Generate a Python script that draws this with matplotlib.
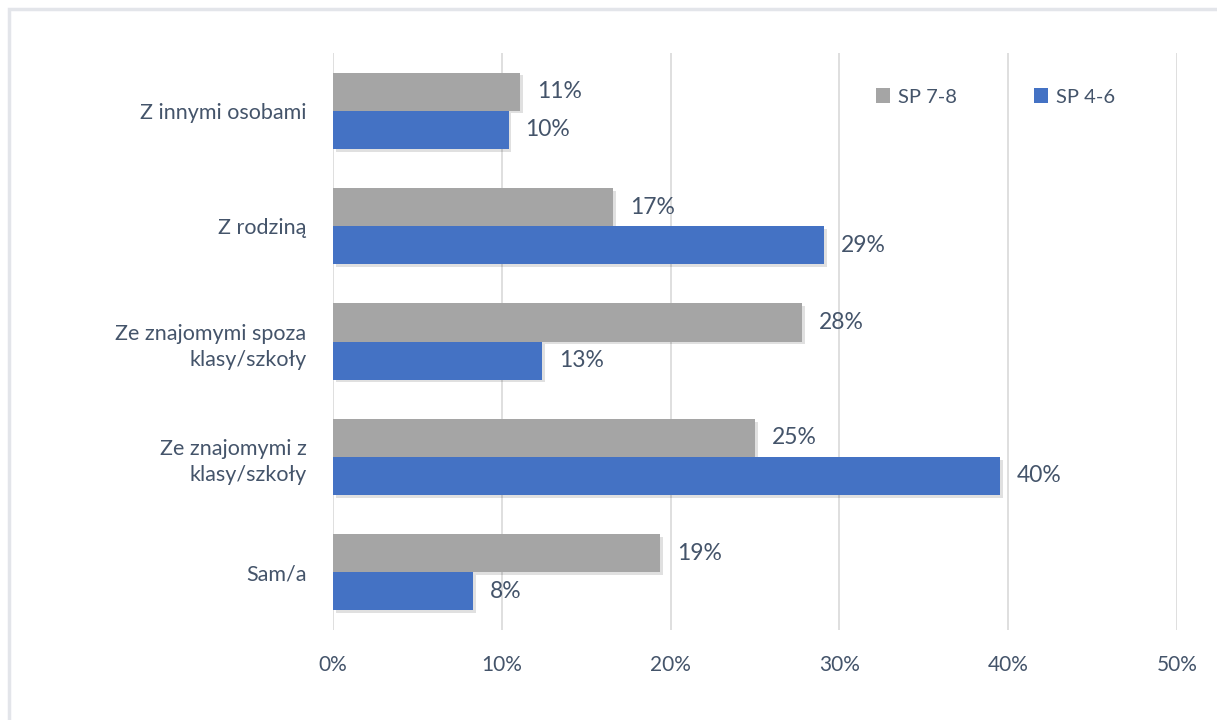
import matplotlib.pyplot as plt
import matplotlib.patheffects as pe
from matplotlib.patches import Rectangle
import numpy as np

# data (bottom -> top)
categories = ['Sam/a', 'Ze znajomymi z\nklasy/szkoły', 'Ze znajomymi spoza\nklasy/szkoły',
              'Z rodziną', 'Z innymi osobami']
sp78 = [19.4, 25.0, 27.8, 16.6, 11.1]
sp46 = [8.3, 39.5, 12.4, 29.1, 10.4]
sp78_labels = ['19%', '25%', '28%', '17%', '11%']
sp46_labels = ['8%', '40%', '13%', '29%', '10%']
ticks = [0, 10, 20, 30, 40, 50]

grey = '#A5A5A5'
blue = '#4472C4'
txt = '#44546A'

plt.rcParams['font.family'] = ['Lato', 'DejaVu Sans']

fig = plt.figure(figsize=(12.17, 7.2), dpi=100)
ax = fig.add_axes([333 / 1217, 1 - 630 / 720, (1177 - 333) / 1217, (630 - 53) / 720])

# ramka wokol wykresu
fig.patches.append(Rectangle((9 / 1217, -0.05), 1.2, 1 - 9 / 720 + 0.05, transform=fig.transFigure,
                             fill=False, edgecolor='#E3E5EA', linewidth=2.5))

y = np.arange(len(categories))
h = 0.33
b1 = ax.barh(y + h / 2, sp78, height=h, color=grey, label='SP 7-8', zorder=3)
b2 = ax.barh(y - h / 2, sp46, height=h, color=blue, label='SP 4-6', zorder=3)
# lekki cien pod slupkami
for bar in list(b1) + list(b2):
    bar.set_path_effects([pe.SimplePatchShadow(offset=(2, -2), shadow_rgbFace='#000000', alpha=0.12),
                          pe.Normal()])

for i in range(len(categories)):
    ax.text(sp78[i] + 1.0, y[i] + h / 2, sp78_labels[i], va='center', ha='left', fontsize=16.5, color=txt)
    ax.text(sp46[i] + 1.0, y[i] - h / 2, sp46_labels[i], va='center', ha='left', fontsize=16.5, color=txt)

ax.set_xlim(0, 50)
ax.set_ylim(-0.5, len(categories) - 0.5)
ax.set_xticks(ticks)
ax.set_xticklabels([f'{t}%' for t in ticks])
ax.set_yticks(y)
ax.set_yticklabels(categories, linespacing=1.4)
ax.tick_params(axis='both', length=0, labelcolor=txt)
ax.tick_params(axis='x', pad=18, labelsize=15)
ax.tick_params(axis='y', pad=19, labelsize=15.5)
ax.grid(axis='x', color='#D9D9D9', linewidth=1.2, zorder=0)
for s in ax.spines.values():
    s.set_visible(False)

leg = ax.legend(loc='center left', bbox_to_anchor=(866 / 1217, 1 - 97 / 720), bbox_transform=fig.transFigure,
                ncol=2, frameon=False, fontsize=14.5, handlelength=0.7, handleheight=0.7,
                handletextpad=0.4, columnspacing=3.8, borderpad=0)
for t in leg.get_texts():
    t.set_color(txt)
for hnd in leg.legend_handles:
    hnd.set_path_effects([])

fig.savefig('out.png', dpi=100)
